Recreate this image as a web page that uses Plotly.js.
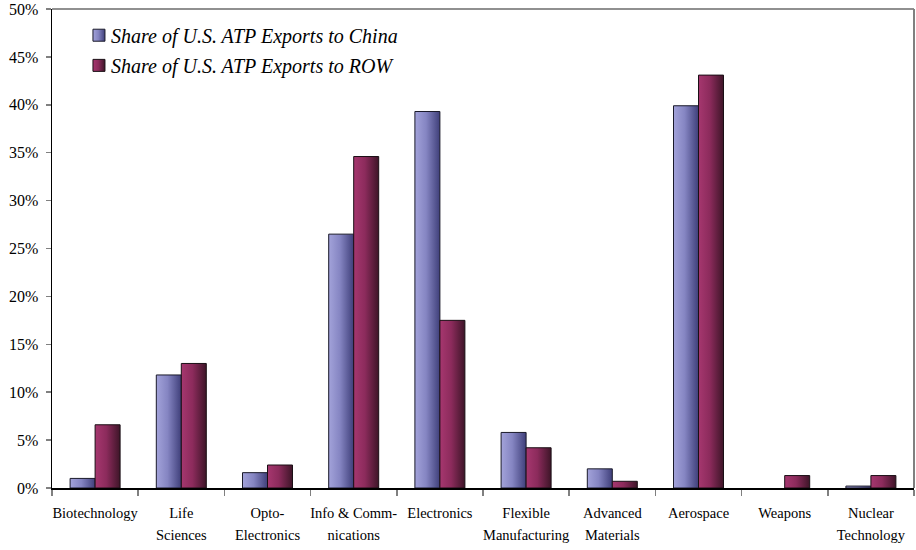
<!DOCTYPE html>
<html>
<head>
<meta charset="utf-8">
<script src="https://cdn.plot.ly/plotly-3.0.1.min.js"></script>
<style>
  html, body { margin: 0; padding: 0; background: #ffffff; }
  #chart { width: 916px; height: 550px; }
</style>
</head>
<body>
<div id="chart"></div>
<script>
// Advanced technology product (ATP) export categories
const categories = [
  'Biotechnology', 'Life Sciences', 'Opto-Electronics', 'Info & Communications',
  'Electronics', 'Flexible Manufacturing', 'Advanced Materials', 'Aerospace',
  'Weapons', 'Nuclear Technology'
];
// Category labels as drawn under the axis, split over two lines
const categoryLabels = [
  ['Biotechnology'], ['Life', 'Sciences'], ['Opto-', 'Electronics'], ['Info &amp; Comm-', 'nications'],
  ['Electronics'], ['Flexible', 'Manufacturing'], ['Advanced', 'Materials'], ['Aerospace'],
  ['Weapons'], ['Nuclear', 'Technology']
];

// Share of U.S. ATP exports by category, in percent
const chinaShare = [1.0, 11.8, 1.6, 26.5, 39.3, 5.8, 2.0, 39.9, 0.0, 0.2];
const rowShare   = [6.6, 13.0, 2.4, 34.6, 17.5, 4.2, 0.7, 43.1, 1.3, 1.3];

const seriesNames = ['Share of U.S. ATP Exports to China', 'Share of U.S. ATP Exports to ROW'];
const yTicks = [0, 5, 10, 15, 20, 25, 30, 35, 40, 45, 50];
const yTickText = yTicks.map(function (v) { return v + '%'; });

const serif = 'Liberation Serif';

// Lines are spaced by the (larger) tick font size, text drawn at 14.5px
const xTickText = categoryLabels.map(function (lines) {
  return lines.map(function (s) { return '<span style="font-size:14.5px">' + s + '</span>'; }).join('<br>');
});

// no outline on empty bars
const outline = function (vals) { return vals.map(function (v) { return v > 0 ? 1 : 0; }); };

const traces = [
  {
    type: 'bar', x: categories, y: chinaShare, name: seriesNames[0],
    marker: { color: '#7f7fbd', line: { color: '#1a1a2a', width: outline(chinaShare) } },
    legend: 'legend', hoverinfo: 'y'
  },
  {
    type: 'bar', x: categories, y: rowShare, name: seriesNames[1],
    marker: { color: '#8a2a5a', line: { color: '#1a0f15', width: outline(rowShare) } },
    legend: 'legend2', hoverinfo: 'y'
  }
];

const legendFont = { family: serif, size: 20, color: '#000000', style: 'italic' };

const layout = {
  width: 916, height: 550,
  margin: { l: 52, r: 2, t: 9, b: 62 },
  paper_bgcolor: '#ffffff', plot_bgcolor: '#ffffff',
  barmode: 'group', bargap: 0.42, bargroupgap: 0,
  font: { family: serif, color: '#000000' },
  showlegend: true,
  legend: {
    x: 0.0220, y: 0.986, xanchor: 'left', yanchor: 'top',
    bgcolor: 'rgba(0,0,0,0)', font: legendFont, itemclick: false
  },
  legend2: {
    x: 0.0220, y: 0.923, xanchor: 'left', yanchor: 'top',
    bgcolor: 'rgba(0,0,0,0)', font: legendFont, itemclick: false
  },
  xaxis: {
    type: 'category', tickson: 'boundaries',
    tickmode: 'array', tickvals: categories, ticktext: xTickText,
    ticks: 'outside', ticklen: 6, tickcolor: '#808080', tickwidth: 1.5,
    showline: true, linecolor: '#000000', linewidth: 1.5,
    showgrid: false, zeroline: false,
    tickfont: { family: serif, size: 17, color: '#000000' },
    ticklabelstandoff: 8, tickangle: 0, fixedrange: true
  },
  yaxis: {
    range: [0, 50], tickmode: 'array', tickvals: yTicks, ticktext: yTickText,
    ticks: 'outside', ticklen: 5, tickcolor: '#808080', tickwidth: 1.5,
    showline: true, linecolor: '#000000', linewidth: 1.5,
    showgrid: false, zeroline: false,
    tickfont: { family: serif, size: 16, color: '#000000' },
    ticklabelstandoff: 4, fixedrange: true
  },
  shapes: [
    // top and right edges of the plot frame
    { type: 'line', xref: 'paper', yref: 'paper', x0: 0, x1: 1, y0: 1, y1: 1,
      line: { color: '#909090', width: 2 } },
    { type: 'line', xref: 'paper', yref: 'paper', x0: 1, x1: 1, y0: 0, y1: 1,
      line: { color: '#808080', width: 2 } }
  ]
};

// Horizontal shading for the bars: light on the left, dark on the right
const gradients = {
  gradChina: [['0%', '#a3a3da'], ['45%', '#8585c2'], ['100%', '#3f3f7a']],
  gradRow:   [['0%', '#a6376f'], ['45%', '#8c2b5c'], ['100%', '#3e1528']]
};

function addGradients(gd) {
  const svgNS = 'http://www.w3.org/2000/svg';
  const svg = gd.querySelector('svg.main-svg');
  let defs = svg.querySelector('defs');
  if (!defs) { defs = document.createElementNS(svgNS, 'defs'); svg.insertBefore(defs, svg.firstChild); }
  Object.keys(gradients).forEach(function (id) {
    const g = document.createElementNS(svgNS, 'linearGradient');
    g.setAttribute('id', id);
    g.setAttribute('x1', '0'); g.setAttribute('y1', '0');
    g.setAttribute('x2', '1'); g.setAttribute('y2', '0');
    gradients[id].forEach(function (s) {
      const st = document.createElementNS(svgNS, 'stop');
      st.setAttribute('offset', s[0]);
      st.setAttribute('stop-color', s[1]);
      g.appendChild(st);
    });
    defs.appendChild(g);
  });
  const fillFor = function (name) { return name === seriesNames[0] ? 'url(#gradChina)' : 'url(#gradRow)'; };
  gd.querySelectorAll('.barlayer .trace').forEach(function (t) {
    const d = t.__data__;
    if (!d || !d[0] || !d[0].trace) return;
    const f = fillFor(d[0].trace.name);
    t.querySelectorAll('path').forEach(function (p) { p.style.fill = f; });
  });
  gd.querySelectorAll('g.traces').forEach(function (t) {
    const d = t.__data__;
    if (!d || !d[0] || !d[0].trace) return;
    const f = fillFor(d[0].trace.name);
    t.querySelectorAll('.legendpoints path').forEach(function (p) {
      p.style.fill = f;
      p.style.strokeWidth = '1px';
    });
    // swatch sits closer to its label
    t.querySelectorAll('.legendpoints').forEach(function (lp) {
      lp.setAttribute('transform', 'translate(8,0)');
    });
  });
}

Plotly.newPlot('chart', traces, layout, { displayModeBar: false, staticPlot: true })
  .then(addGradients);
</script>
</body>
</html>
